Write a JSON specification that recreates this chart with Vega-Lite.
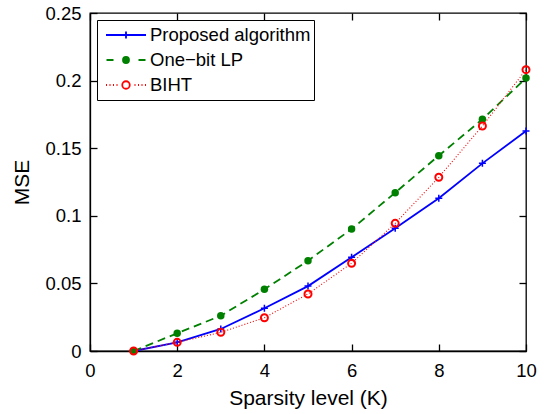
{
  "$schema": "https://vega.github.io/schema/vega-lite/v6.json",
  "width": 436,
  "height": 338,
  "autosize": {"type": "none"},
  "padding": {"left": 90, "top": 13, "right": 20, "bottom": 63},
  "background": "white",
  "config": {
    "font": "Liberation Sans",
    "view": {"stroke": "black", "strokeWidth": 1.3},
    "axis": {
      "grid": false,
      "domainColor": "black",
      "domainWidth": 1.3,
      "tickColor": "black",
      "tickWidth": 1.3,
      "tickSize": -7,
      "labelFlush": false,
      "labelOverlap": false,
      "labelColor": "black",
      "titleColor": "black",
      "labelFont": "Liberation Sans",
      "titleFont": "Liberation Sans",
      "labelFontSize": 18.5,
      "titleFontSize": 21,
      "titleFontWeight": "normal"
    }
  },
  "data": {
    "values": [
      {"series": "Proposed algorithm", "K": 1, "MSE": 0},
      {"series": "Proposed algorithm", "K": 2, "MSE": 0.0064},
      {"series": "Proposed algorithm", "K": 3, "MSE": 0.0163},
      {"series": "Proposed algorithm", "K": 4, "MSE": 0.0316},
      {"series": "Proposed algorithm", "K": 5, "MSE": 0.048},
      {"series": "Proposed algorithm", "K": 6, "MSE": 0.0693},
      {"series": "Proposed algorithm", "K": 7, "MSE": 0.0907},
      {"series": "Proposed algorithm", "K": 8, "MSE": 0.113},
      {"series": "Proposed algorithm", "K": 9, "MSE": 0.1388},
      {"series": "Proposed algorithm", "K": 10, "MSE": 0.1627},
      {"series": "One−bit LP", "K": 1, "MSE": 0},
      {"series": "One−bit LP", "K": 2, "MSE": 0.0131},
      {"series": "One−bit LP", "K": 3, "MSE": 0.0261},
      {"series": "One−bit LP", "K": 4, "MSE": 0.0456},
      {"series": "One−bit LP", "K": 5, "MSE": 0.0668},
      {"series": "One−bit LP", "K": 6, "MSE": 0.0902},
      {"series": "One−bit LP", "K": 7, "MSE": 0.1171},
      {"series": "One−bit LP", "K": 8, "MSE": 0.1445},
      {"series": "One−bit LP", "K": 9, "MSE": 0.1714},
      {"series": "One−bit LP", "K": 10, "MSE": 0.2019},
      {"series": "BIHT", "K": 1, "MSE": 0},
      {"series": "BIHT", "K": 2, "MSE": 0.0064},
      {"series": "BIHT", "K": 3, "MSE": 0.0138},
      {"series": "BIHT", "K": 4, "MSE": 0.0246},
      {"series": "BIHT", "K": 5, "MSE": 0.0422},
      {"series": "BIHT", "K": 6, "MSE": 0.0649},
      {"series": "BIHT", "K": 7, "MSE": 0.0944},
      {"series": "BIHT", "K": 8, "MSE": 0.1285},
      {"series": "BIHT", "K": 9, "MSE": 0.1664},
      {"series": "BIHT", "K": 10, "MSE": 0.2081}
    ]
  },
  "encoding": {
    "x": {
      "field": "K", "type": "quantitative",
      "scale": {"domain": [0, 10], "nice": false, "zero": false},
      "axis": null
    },
    "y": {
      "field": "MSE", "type": "quantitative",
      "scale": {"domain": [0, 0.25], "nice": false},
      "axis": null
    }
  },
  "layer": [
    {
      "transform": [{"filter": "datum.series === 'Proposed algorithm'"}],
      "mark": {"type": "line", "color": "#0000ff", "strokeWidth": 1.8},
      "encoding": {
        "x": {
          "field": "K", "type": "quantitative",
          "axis": {"orient": "bottom", "values": [0, 2, 4, 6, 8, 10], "title": "Sparsity level (K)", "labelPadding": 17, "titlePadding": 8}
        },
        "y": {
          "field": "MSE", "type": "quantitative",
          "axis": {"orient": "left", "values": [0, 0.05, 0.1, 0.15, 0.2, 0.25], "format": "~g", "title": "MSE", "labelPadding": 16, "titlePadding": 12}
        }
      }
    },
    {
      "transform": [{"filter": "datum.series === 'Proposed algorithm'"}],
      "mark": {"type": "point", "shape": "M-1,0H1M0,-1V1", "size": 49, "filled": false, "color": "#0000ff", "strokeWidth": 1.5, "opacity": 1}
    },
    {
      "transform": [{"filter": "datum.series === 'One−bit LP'"}],
      "mark": {"type": "line", "color": "#008000", "strokeWidth": 1.8, "strokeDash": [8, 5]}
    },
    {
      "transform": [{"filter": "datum.series === 'One−bit LP'"}],
      "mark": {"type": "point", "shape": "circle", "size": 56, "filled": true, "color": "#008000", "opacity": 1}
    },
    {
      "transform": [{"filter": "datum.series === 'BIHT'"}],
      "mark": {"type": "line", "color": "#ff0000", "strokeWidth": 1.1, "strokeDash": [1, 2]}
    },
    {
      "transform": [{"filter": "datum.series === 'BIHT'"}],
      "mark": {"type": "point", "shape": "circle", "size": 49, "filled": false, "color": "#ff0000", "strokeWidth": 2, "opacity": 1}
    },
    {
      "mark": {"type": "point", "filled": true, "opacity": 0},
      "encoding": {
        "x": {
          "field": "K", "type": "quantitative",
          "axis": {"orient": "top", "values": [0, 2, 4, 6, 8, 10], "labels": false, "title": null, "domain": false}
        },
        "y": {
          "field": "MSE", "type": "quantitative",
          "axis": {"orient": "right", "values": [0, 0.05, 0.1, 0.15, 0.2, 0.25], "labels": false, "title": null, "domain": false}
        },
        "shape": {
          "field": "series", "type": "nominal",
          "scale": {
            "domain": ["Proposed algorithm", "One−bit LP", "BIHT"],
            "range": [
              "M-0.8,0H0.8M-0.14,0H0.14M0,-0.14V0.14",
              "M-0.78,0H-0.5M0.5,0H0.78M0.12,0A0.12,0.12,0,1,1,-0.12,0A0.12,0.12,0,1,1,0.12,0Z",
              "M-0.8,0h0.04M-0.66,0h0.04M-0.52,0h0.04M-0.38,0h0.04M0.34,0h0.04M0.48,0h0.04M0.62,0h0.04M0.76,0h0.04M0.15,0A0.15,0.15,0,1,1,-0.15,0A0.15,0.15,0,1,1,0.15,0Z"
            ]
          },
          "legend": {"title": null, "orient": "top-left", "offset": 7, "padding": 3, "fillColor": "white", "strokeColor": "black", "symbolSize": 2500, "symbolStrokeWidth": 1.8, "symbolOpacity": 1, "clipHeight": 24, "rowPadding": 1, "labelFontSize": 18.5, "labelFont": "Liberation Sans", "labelColor": "black", "labelOffset": -2, "labelLimit": 400, "labelExpr": "datum.label + '\u00a0\u00a0'"}
        },
        "fill": {
          "field": "series", "type": "nominal",
          "scale": {"domain": ["Proposed algorithm", "One−bit LP", "BIHT"], "range": ["#0000ff", "#008000", "#ffffff"]},
          "legend": {"title": null, "orient": "top-left", "offset": 7, "padding": 3, "fillColor": "white", "strokeColor": "black", "symbolSize": 2500, "symbolStrokeWidth": 1.8, "symbolOpacity": 1, "clipHeight": 24, "rowPadding": 1, "labelFontSize": 18.5, "labelFont": "Liberation Sans", "labelColor": "black", "labelOffset": -2, "labelLimit": 400, "labelExpr": "datum.label + '\u00a0\u00a0'"}
        },
        "stroke": {
          "field": "series", "type": "nominal",
          "scale": {"domain": ["Proposed algorithm", "One−bit LP", "BIHT"], "range": ["#0000ff", "#008000", "#ff0000"]},
          "legend": {"title": null, "orient": "top-left", "offset": 7, "padding": 3, "fillColor": "white", "strokeColor": "black", "symbolSize": 2500, "symbolStrokeWidth": 1.8, "symbolOpacity": 1, "clipHeight": 24, "rowPadding": 1, "labelFontSize": 18.5, "labelFont": "Liberation Sans", "labelColor": "black", "labelOffset": -2, "labelLimit": 400, "labelExpr": "datum.label + '\u00a0\u00a0'"}
        }
      }
    }
  ]
}
